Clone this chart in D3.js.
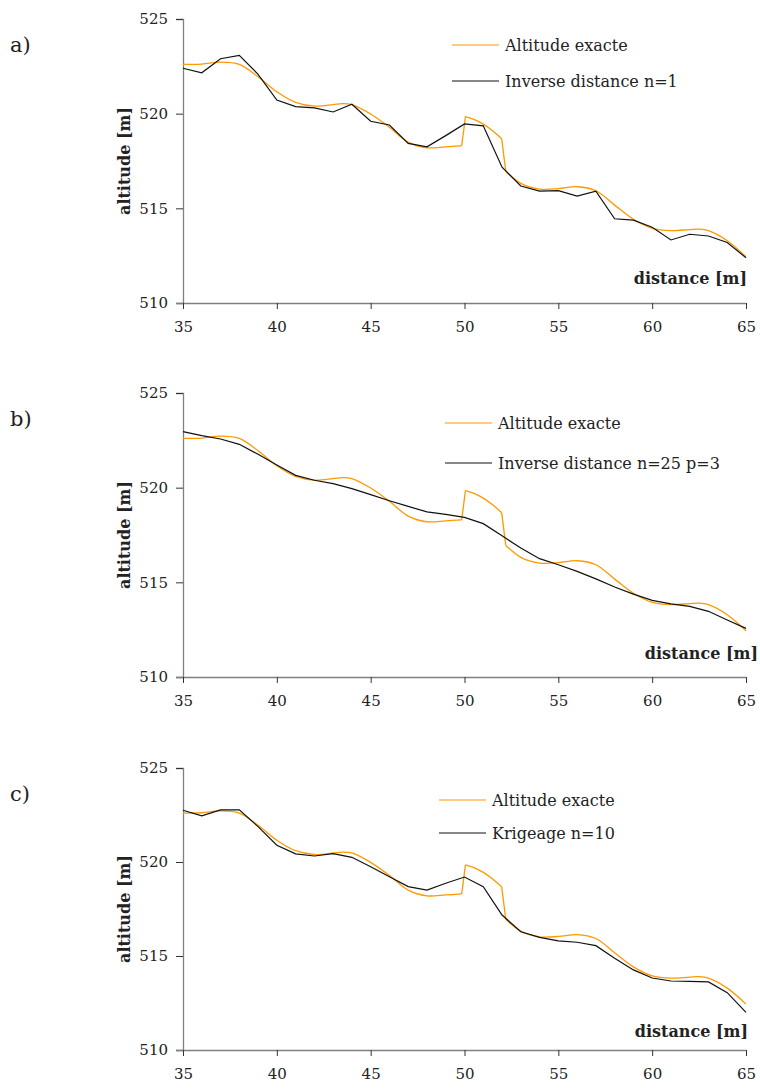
<!DOCTYPE html>
<html><head><meta charset="utf-8">
<script src="https://cdn.jsdelivr.net/npm/d3@7"></script>
<style>body{margin:0;background:#fff}svg{display:block}</style>
</head><body>
<script>
// ---- data ----
const xTicks = [35, 40, 45, 50, 55, 60, 65];
const yTicks = [510, 515, 520, 525];
const distances = [35,36,37,38,39,40,41,42,43,44,45,46,47,48,49,50,51,52,53,54,55,56,57,58,59,60,61,62,63,64,65];
// exact altitude, in three continuous pieces (jumps at 50 and 52)
const exactX1 = [35,36,37,38,39,40,41,42,43,43.5,44,45,46,47,48,49,49.85];
const exactY1 = [522.6,522.62,522.72,522.6,521.95,521.16,520.6,520.4,520.48,520.53,520.48,519.98,519.28,518.5,518.2,518.25,518.3];
const exactX2 = [50.05,50.5,51,51.5,51.98];
const exactY2 = [519.85,519.7,519.45,519.1,518.68];
const exactX3 = [52.2,53,54,55,56,57,58,59,60,61,62,62.5,63,64,65];
const exactY3 = [516.95,516.32,516.02,516.04,516.14,515.93,515.17,514.42,513.94,513.82,513.88,513.9,513.82,513.29,512.44];
const idw1 = [522.4,522.16,522.9,523.08,522.08,520.72,520.37,520.31,520.09,520.5,519.6,519.4,518.43,518.25,518.84,519.46,519.36,517.17,516.18,515.91,515.93,515.65,515.91,514.45,514.38,514.0,513.33,513.63,513.54,513.2,512.39];
const idw25 = [522.96,522.75,522.57,522.29,521.76,521.2,520.65,520.39,520.21,519.95,519.63,519.31,519.01,518.72,518.59,518.43,518.1,517.46,516.81,516.25,515.93,515.58,515.18,514.75,514.38,514.05,513.86,513.73,513.47,513.01,512.57];
const krig10 = [522.75,522.45,522.77,522.77,521.88,520.89,520.43,520.32,520.44,520.25,519.75,519.22,518.69,518.51,518.87,519.2,518.69,517.18,516.29,515.99,515.8,515.73,515.55,514.88,514.26,513.83,513.67,513.65,513.62,513.05,512.0];
const panelLabels = ["a)", "b)", "c)"];
const seriesNames = ["Inverse distance n=1", "Inverse distance n=25 p=3", "Krigeage n=10"];
const exactName = "Altitude exacte";

// ---- layout ----
const FONT = "'DejaVu Serif', 'Liberation Serif', serif";
const W = 760, H = 1091;
const panels = [
  {top: 19, bottom: 303, est: idw1, legX: 452, legY: 45, legGap: 36, distY: 284, distX: 747},
  {top: 393, bottom: 677, est: idw25, legX: 445, legY: 423, legGap: 40, distY: 659, distX: 758},
  {top: 768, bottom: 1050, est: krig10, legX: 439, legY: 800, legGap: 33, distY: 1037, distX: 748}
];
const left = 183, right = 746;
const svg = d3.select("body").append("svg").attr("width", W).attr("height", H)
  .attr("font-family", FONT);
const axisColor = "#808080";

const pieces = [[exactX1, exactY1], [exactX2, exactY2], [exactX3, exactY3]]
  .map(([xs, ys]) => xs.map((d, k) => [d, ys[k]]));

panels.forEach((p, i) => {
  const g = svg.append("g");
  const x = d3.scaleLinear().domain([35, 65]).range([left, right]);
  const y = d3.scaleLinear().domain([510, 525]).range([p.bottom, p.top]);

  const ya = g.append("g").attr("transform", `translate(${left},0)`)
    .call(d3.axisLeft(y).tickValues(yTicks).tickSize(7).tickPadding(8).tickFormat(d3.format("d")));
  const xa = g.append("g").attr("transform", `translate(0,${p.bottom})`)
    .call(d3.axisBottom(x).tickValues(xTicks).tickSize(6).tickPadding(12).tickFormat(d3.format("d")));
  [ya, xa].forEach(a => {
    a.attr("font-family", FONT);
    a.select(".domain").attr("stroke", axisColor).attr("stroke-width", 1.3);
    a.selectAll(".tick line").attr("stroke", "#333");
    a.selectAll(".tick text").attr("font-family", FONT).attr("font-size", 15).attr("fill", "#222");
  });
  xa.select(".domain").attr("d", `M${left - 7},0.5H${right}`);

  const curve = d3.line().x(d => x(d[0])).y(d => y(d[1])).curve(d3.curveCatmullRom.alpha(0.5));
  const straight = d3.line().x(d => x(d[0])).y(d => y(d[1]));
  pieces.forEach((pc, k) => {
    g.append("path").datum(pc).attr("fill", "none").attr("stroke", "#ff9900").attr("stroke-width", 1.3).attr("d", curve);
    if (k < pieces.length - 1) {
      const nxt = pieces[k + 1];
      g.append("path").datum([pc[pc.length - 1], nxt[0]]).attr("fill", "none")
        .attr("stroke", "#ff9900").attr("stroke-width", 1.3).attr("d", straight);
    }
  });
  g.append("path").datum(distances.map((d, k) => [d, p.est[k]]))
    .attr("fill", "none").attr("stroke", "#111").attr("stroke-width", 1.2)
    .attr("d", straight);

  // legend
  const lg = g.append("g");
  [["#ff9900", exactName], ["#111", seriesNames[i]]].forEach((e, k) => {
    const yy = p.legY + k * p.legGap;
    lg.append("line").attr("x1", p.legX).attr("x2", p.legX + 47).attr("y1", yy).attr("y2", yy)
      .attr("stroke", e[0]).attr("stroke-width", 1.2);
    lg.append("text").attr("x", p.legX + 53).attr("y", yy + 6).attr("font-family", FONT)
      .attr("font-size", 16).attr("fill", "#222").text(e[1]);
  });

  g.append("text").attr("x", p.distX).attr("y", p.distY).attr("text-anchor", "end")
    .attr("font-family", FONT).attr("font-size", 16).attr("font-weight", "bold").attr("fill", "#222").text("distance [m]");
  g.append("text").attr("transform", `translate(130,${(p.top + p.bottom) / 2}) rotate(-90)`)
    .attr("text-anchor", "middle").attr("font-family", FONT).attr("font-size", 16)
    .attr("font-weight", "bold").attr("fill", "#222").text("altitude [m]");
  g.append("text").attr("x", 10).attr("y", p.top + 33).attr("font-family", FONT)
    .attr("font-size", 21).attr("fill", "#222").text(panelLabels[i]);
});
</script>
</body></html>
